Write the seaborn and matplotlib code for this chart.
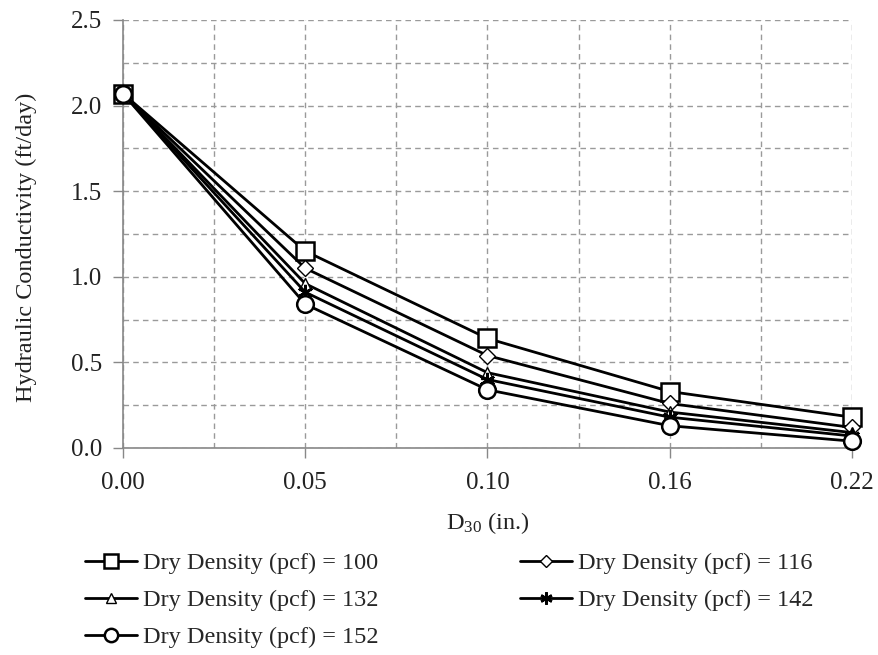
import matplotlib
matplotlib.use("Agg")
import matplotlib.pyplot as plt
import seaborn as sns
import numpy as np
from matplotlib.ticker import MultipleLocator

sns.set_theme(style="white")
plt.rcParams['font.family'] = ['Liberation Serif', 'DejaVu Serif']
plt.rcParams['mathtext.fontset'] = 'custom'
plt.rcParams['mathtext.rm'] = 'Liberation Serif'
plt.rcParams['mathtext.it'] = 'Liberation Serif:italic'

d30_labels = ["0.00", "0.05", "0.10", "0.16", "0.22"]
k_100 = [2.07, 1.15, 0.64, 0.33, 0.18]
k_116 = [2.07, 1.05, 0.54, 0.26, 0.12]
k_132 = [2.07, 0.96, 0.44, 0.21, 0.09]
k_142 = [2.07, 0.91, 0.40, 0.18, 0.07]
k_152 = [2.07, 0.84, 0.34, 0.13, 0.04]
series_labels = ["Dry Density (pcf) = 100", "Dry Density (pcf) = 116",
                 "Dry Density (pcf) = 132", "Dry Density (pcf) = 142",
                 "Dry Density (pcf) = 152"]

fig = plt.figure(figsize=(8.79, 6.55), dpi=100)
ax = fig.add_axes([123/879, 1-448/655, (852-123)/879, (448-20)/655])

styles = [
    dict(marker='s', markersize=13, markerfacecolor='white', markeredgewidth=1.8),
    dict(marker='D', markersize=8, markerfacecolor='white', markeredgewidth=1.0),
    dict(marker='^', markersize=9, markerfacecolor='white', markeredgewidth=1.0),
    dict(marker=(6, 2, 0), markersize=11, markeredgewidth=1.8),
    dict(marker='o', markersize=12, markerfacecolor='white', markeredgewidth=1.8),
]
for vals, lab, st in zip([k_100, k_116, k_132, k_142, k_152], series_labels, styles):
    sns.lineplot(x=d30_labels, y=vals, ax=ax, color='black', linewidth=2.0,
                 markeredgecolor='black', label=lab, clip_on=False, zorder=3, **st)

ax.set_xlim(0, 4)
ax.set_ylim(0, 2.5)
ax.yaxis.set_minor_locator(MultipleLocator(0.25))
ax.xaxis.set_minor_locator(MultipleLocator(0.5))
ax.set_yticks(np.arange(0, 2.51, 0.5))
ax.set_yticklabels([f"{v:.1f}" for v in np.arange(0, 2.51, 0.5)])
ax.grid(True, which='both', linestyle=(0, (4, 3)), color='#9a9a9a', linewidth=1.0)
ax.set_axisbelow(True)
for s in ['top', 'right']:
    ax.spines[s].set_visible(False)
for s in ['left', 'bottom']:
    ax.spines[s].set_color('#888888')
    ax.spines[s].set_linewidth(1.2)
ax.tick_params(axis='both', which='major', direction='out', length=7, color='#888888',
               labelsize=18, labelcolor='#222222', left=True, bottom=True, width=1.0)
ax.tick_params(axis='y', pad=8)
ax.tick_params(axis='x', pad=10)
ax.tick_params(axis='both', which='minor', length=0)

ax.set_xlabel(r"D$_{30}$ (in.)", fontsize=17.5, color='#222222')
ax.set_ylabel("Hydraulic Conductivity (ft/day)", fontsize=17.5, color='#222222')
ax.xaxis.set_label_coords(0.5, -0.145)
ax.yaxis.set_label_coords(-0.118, 0.47)

handles, labels = ax.get_legend_handles_labels()
if ax.legend_:
    ax.legend_.remove()
order = [0, 2, 4, 1, 3]
fig.legend([handles[i] for i in order], [labels[i] for i in order],
           loc='upper left', bbox_to_anchor=(85/879, 1-552/655),
           ncol=2, frameon=False, fontsize=17.5, handlelength=2.15, handletextpad=0.25,
           columnspacing=5.8, labelspacing=0.62, borderpad=0, borderaxespad=0,
           markerscale=0.8)

fig.savefig("out.png", dpi=100)
